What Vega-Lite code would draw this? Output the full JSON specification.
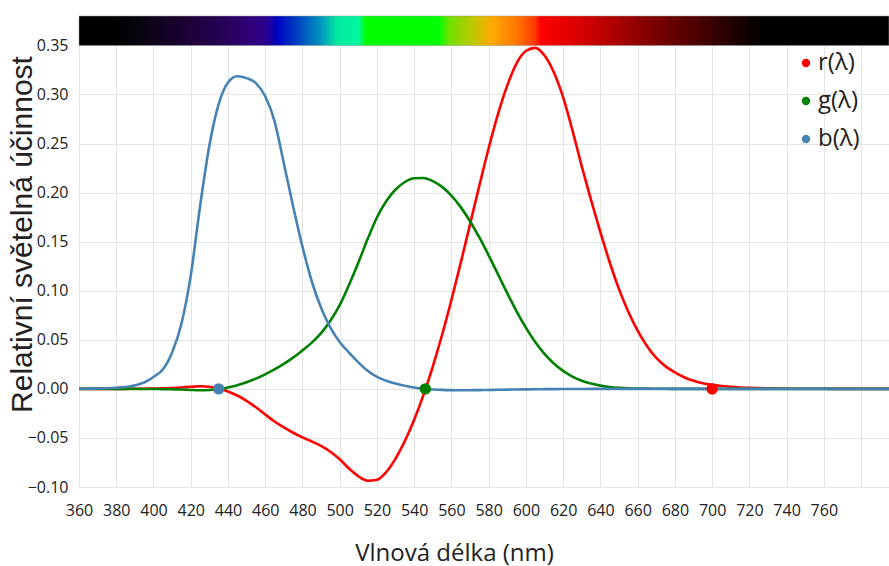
{
  "$schema": "https://vega.github.io/schema/vega-lite/v6.json",
  "autosize": {"type": "none"},
  "padding": {"left": 79, "top": 16, "right": 0, "bottom": 79},
  "width": 810,
  "height": 471,
  "background": "white",
  "config": {
    "font": "Open Sans",
    "view": {"stroke": null},
    "axis": {
      "grid": true,
      "gridColor": "#e4e4e4",
      "gridWidth": 1,
      "gridOpacity": 1,
      "domain": false,
      "ticks": false,
      "labelColor": "#222222",
      "labelFontSize": 16,
      "titleColor": "#222222",
      "titleFontWeight": "normal"
    }
  },
  "datasets": {
    "cmf": [
      {"wl": 360, "r": 0, "g": 0, "b": 0.0001},
      {"wl": 365, "r": 0.00001, "g": 0, "b": 0.00021},
      {"wl": 370, "r": 0.00001, "g": 0, "b": 0.00039},
      {"wl": 375, "r": 0.00002, "g": -0.00001, "b": 0.0007},
      {"wl": 380, "r": 0.00003, "g": -0.00001, "b": 0.00117},
      {"wl": 385, "r": 0.00005, "g": -0.00002, "b": 0.00189},
      {"wl": 390, "r": 0.0001, "g": -0.00004, "b": 0.00359},
      {"wl": 395, "r": 0.00017, "g": -0.00007, "b": 0.00647},
      {"wl": 400, "r": 0.0003, "g": -0.00014, "b": 0.01214},
      {"wl": 405, "r": 0.00047, "g": -0.00022, "b": 0.01969},
      {"wl": 410, "r": 0.00084, "g": -0.00041, "b": 0.03707},
      {"wl": 415, "r": 0.00139, "g": -0.0007, "b": 0.06637},
      {"wl": 420, "r": 0.00211, "g": -0.0011, "b": 0.11541},
      {"wl": 425, "r": 0.00266, "g": -0.00143, "b": 0.18575},
      {"wl": 430, "r": 0.00218, "g": -0.00119, "b": 0.24769},
      {"wl": 435, "r": 0.00036, "g": -0.00021, "b": 0.29012},
      {"wl": 440, "r": -0.00261, "g": 0.00149, "b": 0.31228},
      {"wl": 445, "r": -0.00673, "g": 0.00379, "b": 0.3186},
      {"wl": 450, "r": -0.01213, "g": 0.00678, "b": 0.3167},
      {"wl": 455, "r": -0.01874, "g": 0.01046, "b": 0.31166},
      {"wl": 460, "r": -0.02608, "g": 0.01485, "b": 0.29821},
      {"wl": 465, "r": -0.03324, "g": 0.01977, "b": 0.27295},
      {"wl": 470, "r": -0.03933, "g": 0.02538, "b": 0.22991},
      {"wl": 475, "r": -0.04471, "g": 0.03183, "b": 0.18592},
      {"wl": 480, "r": -0.04939, "g": 0.03914, "b": 0.14494},
      {"wl": 485, "r": -0.05364, "g": 0.04713, "b": 0.10968},
      {"wl": 490, "r": -0.05814, "g": 0.05689, "b": 0.08257},
      {"wl": 495, "r": -0.06414, "g": 0.06948, "b": 0.06246},
      {"wl": 500, "r": -0.07173, "g": 0.08536, "b": 0.04776},
      {"wl": 505, "r": -0.0812, "g": 0.10593, "b": 0.03688},
      {"wl": 510, "r": -0.08901, "g": 0.1286, "b": 0.02698},
      {"wl": 515, "r": -0.09356, "g": 0.15262, "b": 0.01842},
      {"wl": 520, "r": -0.09264, "g": 0.17468, "b": 0.01221},
      {"wl": 525, "r": -0.08473, "g": 0.19113, "b": 0.0083},
      {"wl": 530, "r": -0.07101, "g": 0.20317, "b": 0.00549},
      {"wl": 535, "r": -0.05316, "g": 0.21083, "b": 0.0032},
      {"wl": 540, "r": -0.03152, "g": 0.21466, "b": 0.00146},
      {"wl": 545, "r": -0.00613, "g": 0.21487, "b": 0.00023},
      {"wl": 550, "r": 0.02279, "g": 0.21178, "b": -0.00058},
      {"wl": 555, "r": 0.05514, "g": 0.20588, "b": -0.00105},
      {"wl": 560, "r": 0.0906, "g": 0.19702, "b": -0.0013},
      {"wl": 565, "r": 0.1284, "g": 0.18522, "b": -0.00138},
      {"wl": 570, "r": 0.16768, "g": 0.17087, "b": -0.00135},
      {"wl": 575, "r": 0.20715, "g": 0.15429, "b": -0.00123},
      {"wl": 580, "r": 0.24526, "g": 0.1361, "b": -0.00108},
      {"wl": 585, "r": 0.27989, "g": 0.11686, "b": -0.00093},
      {"wl": 590, "r": 0.30928, "g": 0.09754, "b": -0.00079},
      {"wl": 595, "r": 0.33184, "g": 0.07909, "b": -0.00063},
      {"wl": 600, "r": 0.34429, "g": 0.06246, "b": -0.00049},
      {"wl": 605, "r": 0.34756, "g": 0.04776, "b": -0.00038},
      {"wl": 610, "r": 0.33971, "g": 0.03557, "b": -0.0003},
      {"wl": 615, "r": 0.32265, "g": 0.02583, "b": -0.00022},
      {"wl": 620, "r": 0.29708, "g": 0.01828, "b": -0.00015},
      {"wl": 625, "r": 0.26348, "g": 0.01253, "b": -0.00011},
      {"wl": 630, "r": 0.22677, "g": 0.00833, "b": -0.00008},
      {"wl": 635, "r": 0.19233, "g": 0.00537, "b": -0.00005},
      {"wl": 640, "r": 0.15968, "g": 0.00334, "b": -0.00003},
      {"wl": 645, "r": 0.12905, "g": 0.00199, "b": -0.00002},
      {"wl": 650, "r": 0.10167, "g": 0.00116, "b": -0.00001},
      {"wl": 655, "r": 0.07857, "g": 0.00066, "b": -0.00001},
      {"wl": 660, "r": 0.05932, "g": 0.00037, "b": 0},
      {"wl": 665, "r": 0.04366, "g": 0.00021, "b": 0},
      {"wl": 670, "r": 0.03149, "g": 0.00011, "b": 0},
      {"wl": 675, "r": 0.02294, "g": 0.00006, "b": 0},
      {"wl": 680, "r": 0.01687, "g": 0.00003, "b": 0},
      {"wl": 685, "r": 0.01187, "g": 0.00001, "b": 0},
      {"wl": 690, "r": 0.00819, "g": 0, "b": 0},
      {"wl": 695, "r": 0.00572, "g": 0, "b": 0},
      {"wl": 700, "r": 0.0041, "g": 0, "b": 0},
      {"wl": 705, "r": 0.00291, "g": 0, "b": 0},
      {"wl": 710, "r": 0.0021, "g": 0, "b": 0},
      {"wl": 715, "r": 0.00148, "g": 0, "b": 0},
      {"wl": 720, "r": 0.00105, "g": 0, "b": 0},
      {"wl": 725, "r": 0.00074, "g": 0, "b": 0},
      {"wl": 730, "r": 0.00052, "g": 0, "b": 0},
      {"wl": 735, "r": 0.00036, "g": 0, "b": 0},
      {"wl": 740, "r": 0.00025, "g": 0, "b": 0},
      {"wl": 745, "r": 0.00017, "g": 0, "b": 0},
      {"wl": 750, "r": 0.00012, "g": 0, "b": 0},
      {"wl": 755, "r": 0.00008, "g": 0, "b": 0},
      {"wl": 760, "r": 0.00006, "g": 0, "b": 0},
      {"wl": 765, "r": 0.00004, "g": 0, "b": 0},
      {"wl": 770, "r": 0.00003, "g": 0, "b": 0},
      {"wl": 775, "r": 0.00002, "g": 0, "b": 0},
      {"wl": 780, "r": 0, "g": 0, "b": 0},
      {"wl": 785, "r": 0, "g": 0, "b": 0},
      {"wl": 790, "r": 0, "g": 0, "b": 0},
      {"wl": 795, "r": 0, "g": 0, "b": 0}
    ],
    "crossings": [
      {"wl": 435, "v": 0, "s": "b(λ)"},
      {"wl": 546, "v": 0, "s": "g(λ)"},
      {"wl": 700, "v": 0, "s": "r(λ)"}
    ]
  },
  "layer": [
    {
      "description": "Visible spectrum strip across the top of the plot",
      "data": {"values": [{}]},
      "mark": {
        "type": "rect",
        "stroke": "#9a9a9a",
        "strokeWidth": 0.5,
        "color": {
          "gradient": "linear",
          "x1": 0, "x2": 1, "y1": 0, "y2": 0,
          "stops": [
            {"offset": 0, "color": "#000000"},
            {"offset": 0.046, "color": "#000000"},
            {"offset": 0.083, "color": "#0c0414"},
            {"offset": 0.136, "color": "#1e0038"},
            {"offset": 0.184, "color": "#28005c"},
            {"offset": 0.214, "color": "#30007c"},
            {"offset": 0.232, "color": "#2a0090"},
            {"offset": 0.244, "color": "#0000c0"},
            {"offset": 0.269, "color": "#0040c0"},
            {"offset": 0.297, "color": "#0090c0"},
            {"offset": 0.318, "color": "#00e8a0"},
            {"offset": 0.345, "color": "#00f8a0"},
            {"offset": 0.354, "color": "#00ff00"},
            {"offset": 0.444, "color": "#00ff00"},
            {"offset": 0.457, "color": "#70e000"},
            {"offset": 0.487, "color": "#c0c800"},
            {"offset": 0.51, "color": "#ffa800"},
            {"offset": 0.54, "color": "#ff7800"},
            {"offset": 0.563, "color": "#ff3800"},
            {"offset": 0.57, "color": "#ff0000"},
            {"offset": 0.609, "color": "#e00000"},
            {"offset": 0.651, "color": "#b80000"},
            {"offset": 0.706, "color": "#800000"},
            {"offset": 0.759, "color": "#500000"},
            {"offset": 0.8, "color": "#280000"},
            {"offset": 0.828, "color": "#100000"},
            {"offset": 0.844, "color": "#000000"},
            {"offset": 1, "color": "#000000"}
          ]
        }
      },
      "encoding": {
        "x": {"datum": 360, "type": "quantitative"},
        "x2": {"datum": 795},
        "y": {"datum": 0.35, "type": "quantitative"},
        "y2": {"datum": 0.38}
      }
    },
    {
      "data": {"name": "cmf"},
      "transform": [
        {"fold": ["r", "g", "b"], "as": ["key", "v"]},
        {"lookup": "key", "from": {"data": {"values": [
          {"key": "r", "s": "r(λ)"},
          {"key": "g", "s": "g(λ)"},
          {"key": "b", "s": "b(λ)"}
        ]}, "key": "key", "fields": ["s"]}}
      ],
      "mark": {"type": "line", "strokeWidth": 2.6, "interpolate": "monotone", "clip": true},
      "encoding": {
        "x": {"field": "wl", "type": "quantitative"},
        "y": {"field": "v", "type": "quantitative"},
        "color": {"field": "s", "type": "nominal"},
        "detail": {"field": "s"}
      }
    },
    {
      "data": {"name": "crossings"},
      "mark": {"type": "point", "filled": true, "opacity": 1, "size": 130, "shape": "circle"},
      "encoding": {
        "x": {"field": "wl", "type": "quantitative"},
        "y": {"field": "v", "type": "quantitative"},
        "color": {"field": "s", "type": "nominal"}
      }
    }
  ],
  "encoding": {
    "x": {
      "type": "quantitative",
      "scale": {"domain": [360, 795], "nice": false, "zero": false},
      "axis": {
        "grid": true,
        "title": "Vlnová délka (nm)",
        "titleFontSize": 24,
        "titleBaseline": "alphabetic",
        "titleX": 375,
        "titleY": 73,
        "labelPadding": 15,
        "values": [360, 380, 400, 420, 440, 460, 480, 500, 520, 540, 560, 580, 600, 620, 640, 660, 680, 700, 720, 740, 760, 780],
        "labelExpr": "datum.value <= 760 ? datum.label : ''",
        "labelFlush": false
      }
    },
    "y": {
      "type": "quantitative",
      "scale": {"domain": [-0.1, 0.38], "nice": false, "zero": false},
      "axis": {
        "grid": true,
        "title": "Relativní světelná účinnost",
        "titleFont": "Liberation Sans",
        "titleFontSize": 30,
        "titleBaseline": "alphabetic",
        "titleX": -48,
        "titleY": 218,
        "labelPadding": 11,
        "format": ".2f",
        "values": [-0.1, -0.05, 0, 0.05, 0.1, 0.15, 0.2, 0.25, 0.3, 0.35]
      }
    },
    "color": {
      "type": "nominal",
      "scale": {"domain": ["r(λ)", "g(λ)", "b(λ)"], "range": ["#ff0000", "#008000", "#4682b4"]},
      "legend": {
        "title": null,
        "orient": "none",
        "legendX": 715,
        "legendY": 35,
        "symbolType": "circle",
        "symbolSize": 70,
        "symbolStrokeWidth": 0,
        "labelFontSize": 24,
        "labelColor": "#222222",
        "labelOffset": 0,
        "rowPadding": 14,
        "padding": 0,
        "encode": {
          "symbols": {"update": {"fill": {"scale": "color", "field": "value"}, "opacity": {"value": 1}}}
        }
      }
    }
  }
}
